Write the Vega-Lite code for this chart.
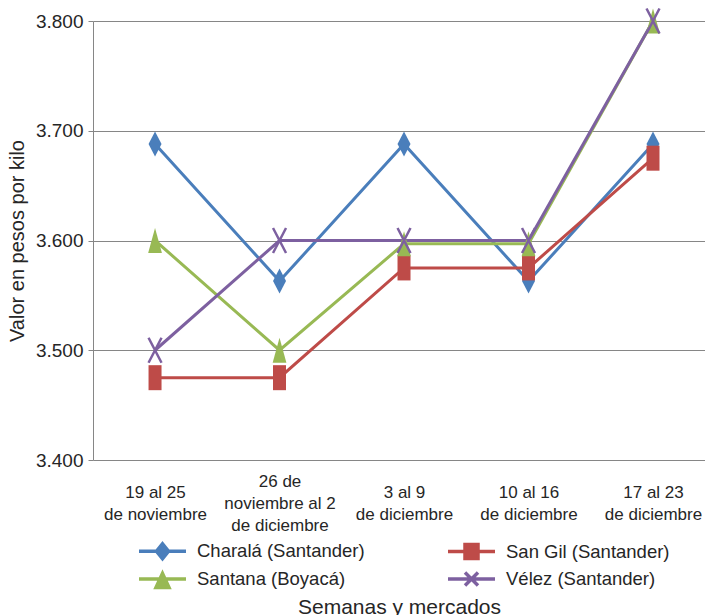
{
  "$schema": "https://vega.github.io/schema/vega-lite/v6.json",
  "width": 612,
  "height": 439,
  "autosize": "none",
  "padding": {"left": 93, "top": 21, "right": 0, "bottom": 155},
  "background": "white",
  "config": {
    "font": "Liberation Sans",
    "view": {"stroke": null}
  },
  "data": {
    "values": [
      {"mercado": "Charalá (Santander)", "semana": "19 al 25|de noviembre", "valor": 3688},
      {"mercado": "Charalá (Santander)", "semana": "26 de|noviembre al 2|de diciembre", "valor": 3563},
      {"mercado": "Charalá (Santander)", "semana": "3 al 9|de diciembre", "valor": 3688},
      {"mercado": "Charalá (Santander)", "semana": "10 al 16|de diciembre", "valor": 3563},
      {"mercado": "Charalá (Santander)", "semana": "17 al 23|de diciembre", "valor": 3688},
      {"mercado": "San Gil (Santander)", "semana": "19 al 25|de noviembre", "valor": 3475},
      {"mercado": "San Gil (Santander)", "semana": "26 de|noviembre al 2|de diciembre", "valor": 3475},
      {"mercado": "San Gil (Santander)", "semana": "3 al 9|de diciembre", "valor": 3575},
      {"mercado": "San Gil (Santander)", "semana": "10 al 16|de diciembre", "valor": 3575},
      {"mercado": "San Gil (Santander)", "semana": "17 al 23|de diciembre", "valor": 3675},
      {"mercado": "Santana (Boyacá)", "semana": "19 al 25|de noviembre", "valor": 3600},
      {"mercado": "Santana (Boyacá)", "semana": "26 de|noviembre al 2|de diciembre", "valor": 3500},
      {"mercado": "Santana (Boyacá)", "semana": "3 al 9|de diciembre", "valor": 3597},
      {"mercado": "Santana (Boyacá)", "semana": "10 al 16|de diciembre", "valor": 3597},
      {"mercado": "Santana (Boyacá)", "semana": "17 al 23|de diciembre", "valor": 3800},
      {"mercado": "Vélez (Santander)", "semana": "19 al 25|de noviembre", "valor": 3500},
      {"mercado": "Vélez (Santander)", "semana": "26 de|noviembre al 2|de diciembre", "valor": 3600},
      {"mercado": "Vélez (Santander)", "semana": "3 al 9|de diciembre", "valor": 3600},
      {"mercado": "Vélez (Santander)", "semana": "10 al 16|de diciembre", "valor": 3600},
      {"mercado": "Vélez (Santander)", "semana": "17 al 23|de diciembre", "valor": 3800}
    ]
  },
  "encoding": {
    "x": {
      "field": "semana",
      "type": "nominal",
      "sort": null,
      "scale": {"type": "point", "padding": 0.458, "align": 0.544},
      "axis": {
        "domain": false,
        "ticks": false,
        "grid": false,
        "labelAngle": 0,
        "labelExpr": "split(datum.value, '|')",
        "labelBaseline": {"condition": {"test": "length(split(datum.value, '|')) > 2", "value": "line-bottom"}, "value": "middle"},
        "labelPadding": 32,
        "labelLineHeight": 22,
        "labelFontSize": 17,
        "labelColor": "#262626",
        "labelOverlap": false,
        "labelLimit": 0,
        "title": "Semanas y mercados",
        "titleFontSize": 21,
        "titleFontWeight": "normal",
        "titleColor": "#262626",
        "titleY": 153,
        "titleBaseline": "alphabetic"
      }
    },
    "y": {
      "field": "valor",
      "type": "quantitative",
      "scale": {"domain": [3400, 3800], "nice": false, "zero": false},
      "axis": {
        "values": [3400, 3500, 3600, 3700, 3800],
        "labelExpr": "replace(format(datum.value, ','), ',', '.')",
        "labelFontSize": 19,
        "labelColor": "#262626",
        "labelPadding": 5,
        "tickSize": 5,
        "tickColor": "#868686",
        "domainColor": "#868686",
        "gridColor": "#868686",
        "gridWidth": 1.2,
        "title": "Valor en pesos por kilo",
        "titleFontSize": 20,
        "titleFontWeight": "normal",
        "titleColor": "#262626",
        "titleX": -76,
        "titleBaseline": "middle"
      }
    },
    "color": {
      "field": "mercado",
      "type": "nominal",
      "scale": {
        "domain": ["Charalá (Santander)", "San Gil (Santander)", "Santana (Boyacá)", "Vélez (Santander)"],
        "range": ["#4A7EBB", "#BE4B48", "#98B954", "#7D60A0"]
      },
      "legend": null
    }
  },
  "resolve": {"legend": {"color": "independent", "shape": "independent"}},
  "layer": [
    {
      "mark": {"type": "line", "strokeWidth": 3}
    },
    {
      "transform": [{"filter": "datum.mercado === 'Charalá (Santander)'"}],
      "mark": {"type": "point", "filled": true, "opacity": 1, "size": 625, "shape": "M0,-1L0.52,0L0,1L-0.52,0Z"}
    },
    {
      "transform": [{"filter": "datum.mercado === 'San Gil (Santander)'"}],
      "mark": {"type": "point", "filled": true, "opacity": 1, "size": 625, "shape": "M-0.52,-1H0.52V1H-0.52Z"}
    },
    {
      "transform": [{"filter": "datum.mercado === 'Santana (Boyacá)'"}],
      "mark": {"type": "point", "filled": true, "opacity": 1, "size": 625, "shape": "M0,-1L0.55,1H-0.55Z"}
    },
    {
      "transform": [{"filter": "datum.mercado === 'Vélez (Santander)'"}],
      "mark": {"type": "point", "filled": false, "opacity": 1, "size": 625, "strokeWidth": 2.5, "shape": "M-0.52,-1L0.52,1M-0.52,1L0.52,-1"}
    },
    {
      "mark": {"type": "point", "filled": true, "opacity": 0, "size": 400},
      "encoding": {
        "color": {
          "field": "mercado",
          "type": "nominal",
          "legend": {
            "title": null,
            "orient": "none",
            "direction": "horizontal",
            "legendX": 57.5,
            "legendY": 518,
            "columns": 2,
            "padding": 0,
            "symbolSize": 400,
            "symbolOpacity": 1,
            "symbolStrokeWidth": 3.5,
            "labelOffset": 22.5,
            "columnPadding": 75,
            "rowPadding": -1,
            "labelFontSize": 18.5,
            "labelColor": "#262626",
            "labelLimit": 300,
            "encode": {
              "symbols": {
                "update": {
                  "opacity": {"value": 1},
                  "fill": {"scale": "color", "field": "value"},
                  "stroke": {"scale": "color", "field": "value"},
                  "strokeWidth": {"value": 3.5}
                }
              }
            }
          }
        },
        "shape": {
          "field": "mercado",
          "type": "nominal",
          "scale": {
            "domain": ["Charalá (Santander)", "San Gil (Santander)", "Santana (Boyacá)", "Vélez (Santander)"],
            "range": [
              "M-2.35,0H2.35M0,-0.75L0.6,0L0,0.75L-0.6,0Z",
              "M-2.35,0H2.35M-0.65,-0.7H0.65V0.7H-0.65Z",
              "M-2.35,0H2.35M0,-0.55L0.65,0.85H-0.65Z",
              "M-2.35,0H2.35M-0.65,-0.65L0.65,0.65M-0.65,0.65L0.65,-0.65"
            ]
          },
          "legend": {
            "title": null,
            "orient": "none",
            "direction": "horizontal",
            "legendX": 57.5,
            "legendY": 518,
            "columns": 2,
            "padding": 0,
            "symbolSize": 400,
            "symbolOpacity": 1,
            "symbolStrokeWidth": 3.5,
            "labelOffset": 22.5,
            "columnPadding": 75,
            "rowPadding": -1,
            "labelFontSize": 18.5,
            "labelColor": "#262626",
            "labelLimit": 300
          }
        }
      }
    }
  ]
}
